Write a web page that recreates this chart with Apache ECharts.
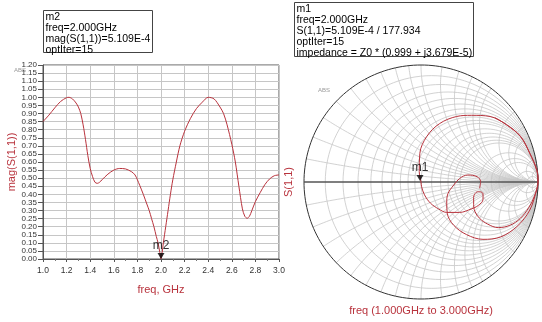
<!DOCTYPE html>
<html><head><meta charset="utf-8">
<script src="https://cdn.jsdelivr.net/npm/echarts@6/dist/echarts.min.js"></script>
<style>html,body{margin:0;padding:0;background:#fff}#c{width:542px;height:322px}</style>
</head><body><div id="c"></div>
<script>
// ---- data: mag(S(1,1)) vs frequency ----
const freqGHz = [1.00,1.05,1.10,1.15,1.20,1.22,1.25,1.28,1.30,1.32,1.34,1.36,1.38,1.40,1.42,1.44,1.46,1.48,1.50,1.55,1.60,1.65,1.70,1.75,1.78,1.80,1.82,1.85,1.88,1.90,1.92,1.94,1.96,1.975,1.99,2.00,2.01,2.02,2.04,2.06,2.08,2.10,2.13,2.16,2.20,2.25,2.30,2.35,2.40,2.45,2.50,2.53,2.56,2.60,2.63,2.66,2.69,2.71,2.73,2.75,2.77,2.80,2.84,2.88,2.92,2.96,3.00];
const magS11 = [0.850,0.890,0.935,0.975,0.998,1.000,0.990,0.965,0.940,0.900,0.830,0.740,0.640,0.560,0.510,0.475,0.468,0.475,0.490,0.525,0.550,0.560,0.557,0.540,0.520,0.490,0.455,0.400,0.340,0.300,0.250,0.200,0.140,0.100,0.040,0.0005,0.040,0.100,0.200,0.300,0.400,0.490,0.600,0.700,0.790,0.870,0.930,0.970,1.000,0.990,0.940,0.900,0.830,0.710,0.600,0.450,0.310,0.265,0.252,0.265,0.300,0.355,0.410,0.460,0.495,0.515,0.520];
// ---- data: S(1,1) trace on the Smith chart (real, imag), 1 GHz -> 3 GHz ----
const smithRe = [0.63,0.73,0.85,0.93,0.99,1.00,0.97,0.92,0.85,0.76,0.66,0.57,0.50,0.46,0.45,0.45,0.47,0.50,0.53,0.53,0.49,0.43,0.33,0.22,0.15,0.08,0.03,0.005,0.00,
                 -0.015,-0.01,0.05,0.16,0.305,0.43,0.59,0.73,0.85,0.93,0.99,1.00,0.99,0.93,0.82,0.68,0.53,0.39,0.28,0.225,0.22,0.23,0.28,0.33,0.40,0.48,0.51,0.50];
const smithIm = [0.55,0.49,0.39,0.245,0.10,0.00,-0.12,-0.22,-0.31,-0.37,-0.39,-0.36,-0.31,-0.25,-0.19,-0.13,-0.09,-0.083,-0.10,-0.15,-0.20,-0.23,-0.26,-0.26,-0.23,-0.18,-0.11,-0.04,0.00,
                 0.09,0.245,0.39,0.50,0.56,0.57,0.56,0.49,0.39,0.245,0.10,0.00,-0.06,-0.24,-0.38,-0.47,-0.49,-0.45,-0.37,-0.27,-0.18,-0.10,-0.026,0.03,0.06,0.045,0.003,-0.054];
// ---- axis ticks ----
const xTicks = ['1.0','1.2','1.4','1.6','1.8','2.0','2.2','2.4','2.6','2.8','3.0'];
// ---- Smith grid values ----
const smithResistances = [0.1,0.2,0.3,0.4,0.5,0.6,0.7,0.8,0.9,1.0,1.2,1.4,1.6,1.8,2.0,3,4,5,10,20];
const smithReactances = [0.1,0.2,0.3,0.4,0.5,0.6,0.7,0.8,0.9,1.0,1.2,1.4,1.6,1.8,2.0,3,4,5,10,20];
// ---- marker ----
const markerFreq = 2.0;
const markerMag = 5.109e-4;
const m2Lines = ['m2','freq=2.000GHz','mag(S(1,1))=5.109E-4','optIter=15'];
const m1Lines = ['m1','freq=2.000GHz','S(1,1)=5.109E-4 / 177.934','optIter=15','impedance = Z0 * (0.999 + j3.679E-5)'];

const RED = '#b8323c';
const GRIDC = '#c6c6c6';
const FONT = 'Arial, sans-serif';

function circlePts(cx, cy, r, a0, a1, n) {
  const pts = [];
  for (let i = 0; i <= n; i++) {
    const a = a0 + (a1 - a0) * i / n;
    pts.push([cx + r * Math.cos(a), cy + r * Math.sin(a)]);
  }
  return pts;
}
const smithGridSeries = [];
function gridLine(pts, color, width, z) {
  smithGridSeries.push({type:'line', xAxisIndex:1, yAxisIndex:1, data:pts, showSymbol:false, symbol:'none',
    silent:true, animation:false, lineStyle:{color:color, width:width}, z:z || 1, clip:false});
}
smithResistances.forEach(r => {
  gridLine(circlePts(r/(1+r), 0, 1/(1+r), 0, 2*Math.PI, 120), GRIDC, 0.8);
});
smithReactances.forEach(x => {
  [1,-1].forEach(s => {
    const cy = s / x, rad = 1 / x;
    const px = (x*x - 1) / (x*x + 1), py = s * 2 * x / (x*x + 1);
    let aStart = s > 0 ? 1.5*Math.PI : 0.5*Math.PI;
    let aEnd = Math.atan2(py - cy, px - 1);
    if (s > 0) { if (aEnd < 0) aEnd += 2*Math.PI; }
    else { if (aEnd > 0) aEnd -= 2*Math.PI; aEnd += 2*Math.PI; if (aEnd > Math.PI*1.5) aEnd -= 2*Math.PI; }
    gridLine(circlePts(1, cy, rad, aStart, aEnd, 80), GRIDC, 0.8);
  });
});
gridLine(circlePts(0, 0, 1, 0, 2*Math.PI, 200), '#333', 1, 3);
gridLine([[-1,0],[1,0]], '#555', 1.5, 3);

const chart = echarts.init(document.getElementById('c'), null, {renderer:'canvas'});
function boxGraphic(left, top, w, h, lines) {
  return {type:'group', left:left, top:top, children:[
    {type:'rect', shape:{x:0, y:0, width:w, height:h}, style:{fill:'#fff', stroke:'#444', lineWidth:1}},
    {type:'text', x:2, y:1, style:{text:lines.join('\n'), fill:'#000', font:'10.5px Arial', lineHeight:11}}
  ]};
}
chart.setOption({
  animation:false,
  backgroundColor:'#fff',
  grid:[
    {left:43, top:65, width:236, height:194, show:true, borderColor:'#555', borderWidth:1},
    {left:304, top:65, width:234, height:234}
  ],
  xAxis:[
    {gridIndex:0, type:'value', min:1, max:3, interval:0.2,
     axisLine:{lineStyle:{color:'#555'}}, axisTick:{length:3, lineStyle:{color:'#555'}},
     minorTick:{show:true, splitNumber:2, length:2, lineStyle:{color:'#777'}},
     axisLabel:{fontSize:8.5, fontFamily:FONT, color:'#333', margin:7, showMinLabel:true, showMaxLabel:true,
       formatter:v => xTicks.find(t => Math.abs(parseFloat(t) - v) < 1e-6) || ''},
     splitLine:{show:true, lineStyle:{color:GRIDC, width:1}},
     name:'freq, GHz', nameLocation:'middle', nameGap:25,
     nameTextStyle:{color:RED, fontSize:11, fontFamily:'Arial'}},
    {gridIndex:1, type:'value', min:-1, max:1, show:false}
  ],
  yAxis:[
    {gridIndex:0, type:'value', min:0, max:1.2, interval:0.05,
     axisLine:{show:true, lineStyle:{color:'#555'}}, axisTick:{show:true, length:5, lineStyle:{color:'#555'}},
     axisLabel:{fontSize:8, lineHeight:8, fontFamily:FONT, color:'#333', margin:6, showMinLabel:true, showMaxLabel:true, hideOverlap:false,
       formatter:v => v.toFixed(2)},
     splitLine:{show:true, lineStyle:{color:GRIDC, width:1}},
     name:'mag(S(1,1))', nameLocation:'middle', nameGap:25, nameRotate:90,
     nameTextStyle:{color:RED, fontSize:11, fontFamily:'Arial'}},
    {gridIndex:1, type:'value', min:-1, max:1, show:false}
  ],
  graphic:[
    boxGraphic(43, 10, 109, 42, m2Lines),
    boxGraphic(294, 2, 179, 54, m1Lines),
    {type:'text', left:14, top:67, style:{text:'ABS', fill:'#999', font:'6px Arial'}},
    {type:'text', left:318, top:87, style:{text:'ABS', fill:'#999', font:'6px Arial'}},
    {type:'text', x:289, y:182, rotation:Math.PI/2, style:{text:'S(1,1)', fill:RED, font:'11px Arial', align:'center', verticalAlign:'middle'}},
    {type:'text', x:421, y:311, style:{text:'freq (1.000GHz to 3.000GHz)', fill:RED, font:'11px Arial', align:'center', verticalAlign:'middle'}}
  ],
  series:[
    ...smithGridSeries,
    {type:'line', xAxisIndex:0, yAxisIndex:0, data:freqGHz.map((f,i)=>[f, magS11[i]]),
     showSymbol:false, smooth:0.3, lineStyle:{color:RED, width:1}, z:5},
    {type:'line', xAxisIndex:1, yAxisIndex:1, data:smithRe.map((r,i)=>[r, smithIm[i]]),
     showSymbol:false, smooth:0.35, lineStyle:{color:RED, width:1}, z:5},
    {type:'scatter', xAxisIndex:0, yAxisIndex:0, data:[[markerFreq, markerMag]], symbol:'triangle', symbolRotate:180,
     symbolSize:[7,6], symbolOffset:[0,-3], itemStyle:{color:'#000'}, z:10,
     label:{show:true, formatter:'m2', position:'top', distance:1, color:'#000', fontSize:12, fontFamily:'Arial'}},
    {type:'scatter', xAxisIndex:1, yAxisIndex:1, data:[[0, 0]], symbol:'triangle', symbolRotate:180,
     symbolSize:[7,6], symbolOffset:[-1,-4], itemStyle:{color:'#000'}, z:10,
     label:{show:true, formatter:'m1', position:'top', distance:1, color:'#000', fontSize:12, fontFamily:'Arial'}}
  ]
});
</script></body></html>
